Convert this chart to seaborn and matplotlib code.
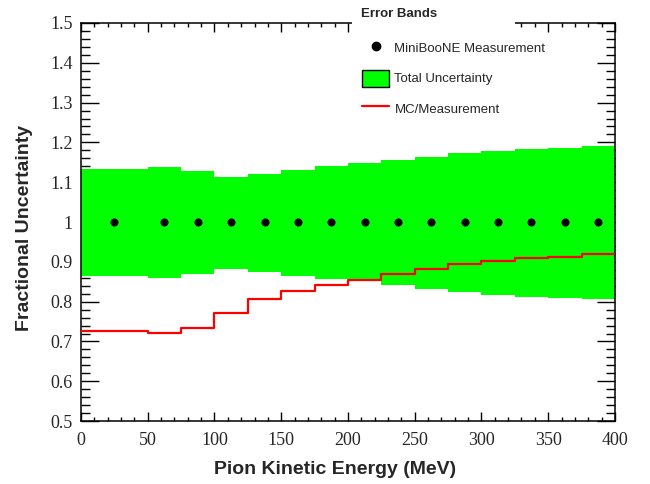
import numpy as np
import pandas as pd
import seaborn as sns
import matplotlib.pyplot as plt
from matplotlib.patches import Patch, Rectangle
from matplotlib.lines import Line2D
from matplotlib.ticker import MultipleLocator

# bin edges in pion kinetic energy (MeV)
bin_edges = [0, 50, 75, 100, 125, 150, 175, 200, 225, 250, 275, 300, 325, 350, 375, 400]
bin_centers = [25, 62.5, 87.5, 112.5, 137.5, 162.5, 187.5, 212.5, 237.5, 262.5,
               287.5, 312.5, 337.5, 362.5, 387.5]
measurement = [1.0] * 15
band_upper = [1.133, 1.138, 1.128, 1.113, 1.121, 1.131, 1.141, 1.148, 1.156,
              1.163, 1.173, 1.178, 1.183, 1.186, 1.191]
band_lower = [0.865, 0.860, 0.870, 0.883, 0.875, 0.865, 0.857, 0.853, 0.843,
              0.832, 0.825, 0.817, 0.812, 0.810, 0.807]
mc_ratio = [0.727, 0.722, 0.734, 0.772, 0.807, 0.827, 0.842, 0.854, 0.869,
            0.883, 0.895, 0.902, 0.910, 0.913, 0.919]
y_tick_labels = ["0.5", "0.6", "0.7", "0.8", "0.9", "1", "1.1", "1.2", "1.3", "1.4", "1.5"]

sns.set_style("ticks")
plt.rcParams["font.family"] = ["Liberation Sans", "DejaVu Sans"]

fig = plt.figure(figsize=(6.5, 4.84), dpi=100)
ax = fig.add_axes([0.1246, 0.130, 0.8214, 0.8225])

# total uncertainty band
ax.stairs(band_upper, bin_edges, baseline=band_lower, fill=True,
          color="#00ff00", lw=0, zorder=1)

# MC / measurement step line
step_df = pd.DataFrame({"x": bin_edges, "y": mc_ratio + [mc_ratio[-1]]})
sns.lineplot(data=step_df, x="x", y="y", drawstyle="steps-post",
             color="#ff0000", lw=1.6, ax=ax, zorder=3)

# measurement points
pts = pd.DataFrame({"x": bin_centers, "y": measurement})
sns.scatterplot(data=pts, x="x", y="y", color="black", s=34,
                edgecolor="black", linewidth=0, ax=ax, zorder=4)

ax.set_xlim(0, 400)
ax.set_ylim(0.5, 1.5)
ax.xaxis.set_major_locator(MultipleLocator(50))
ax.xaxis.set_minor_locator(MultipleLocator(10))
ax.yaxis.set_minor_locator(MultipleLocator(0.02))
ax.set_yticks(np.arange(0.5, 1.51, 0.1))
ax.set_yticklabels(y_tick_labels)

for s in ax.spines.values():
    s.set_linewidth(1.1)
    s.set_color("black")
ax.tick_params(axis="both", which="both", direction="in", top=True, right=True,
               color="black", width=1.0)
ax.tick_params(axis="y", which="major", length=13)
ax.tick_params(axis="y", which="minor", length=6.5)
ax.tick_params(axis="x", which="major", length=6.5)
ax.tick_params(axis="x", which="minor", length=3.2)
for lab in ax.get_xticklabels() + ax.get_yticklabels():
    lab.set_fontfamily("Liberation Serif")
    lab.set_fontsize(13)
ax.tick_params(axis="x", pad=8)
ax.tick_params(axis="y", pad=6)

ax.set_xlabel("Pion Kinetic Energy (MeV)", fontsize=14, fontweight="bold")
ax.set_ylabel("Fractional Uncertainty", fontsize=14, fontweight="bold")
ax.xaxis.set_label_coords(0.476, -0.1)
ax.yaxis.set_label_coords(-0.09, 0.485)

# white patch hiding top frame and ticks behind legend header
ax.add_patch(Rectangle((0.507, 0.97), 0.306, 0.045, transform=ax.transAxes,
                       facecolor="white", edgecolor="none", clip_on=False, zorder=6))

fig.text(361 / 650, 1 - 14 / 484, "Error Bands", fontsize=9.5, fontweight="bold",
         ha="left", va="center")

handles = [
    Line2D([], [], marker="o", color="black", ls="none", markersize=6),
    Patch(facecolor="#00ff00", edgecolor="black", lw=1.0),
    Line2D([], [], color="#ff0000", lw=1.6),
]
labels = ["MiniBooNE Measurement", "Total Uncertainty", "MC/Measurement"]
leg = fig.legend(handles, labels, loc="upper left",
                 bbox_to_anchor=(0.5488, 0.930), frameon=False, fontsize=9.5,
                 handlelength=2.08, handleheight=1.6, handletextpad=0.38,
                 labelspacing=1.02, borderaxespad=0)
leg.set_zorder(7)

plt.savefig("out.png", dpi=100)
